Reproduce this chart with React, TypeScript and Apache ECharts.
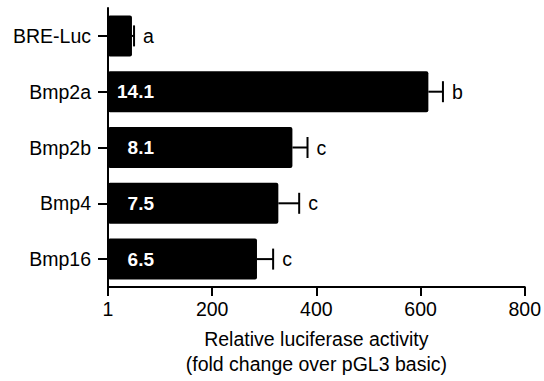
import React, { useEffect, useRef } from "react";
import * as echarts from "echarts";

const categories = ["BRE-Luc", "Bmp2a", "Bmp2b", "Bmp4", "Bmp16"];
const activity = [46, 615, 354, 327, 286];
const errorPlus = [4, 28, 29, 40, 31];
const foldChange = ["", "14.1", "8.1", "7.5", "6.5"];
const significance = ["a", "b", "c", "c", "c"];
const xTicks = [0, 200, 400, 600, 800];
const xTickLabels = ["1", "200", "400", "600", "800"];

const FONT = "'Liberation Sans', Arial, Helvetica, sans-serif";
const FS = 19.5;

export default function App() {
  const ref = useRef<HTMLDivElement>(null);
  useEffect(() => {
    if (!ref.current) return;
    const chart = echarts.init(ref.current, undefined, { renderer: "svg" });
    chart.setOption({
      animation: false,
      backgroundColor: "#fff",
      textStyle: { fontFamily: FONT },
      grid: { left: 108, right: 19, top: 8, bottom: 93.5, containLabel: false },
      xAxis: {
        type: "value",
        min: xTicks[0],
        max: xTicks[xTicks.length - 1],
        interval: 200,
        axisLine: { show: true, lineStyle: { color: "#000", width: 2 } },
        axisTick: { show: true, length: 9, lineStyle: { color: "#000", width: 2 } },
        splitLine: { show: false },
        axisLabel: {
          color: "#000",
          fontSize: FS,
          fontFamily: FONT,
          margin: 12,
          formatter: (v: number) => {
            const i = xTicks.indexOf(v);
            return i >= 0 ? xTickLabels[i] : "";
          },
        },
        name: "Relative luciferase activity\n(fold change over pGL3 basic)",
        nameLocation: "middle",
        nameGap: 39,
        nameTextStyle: { color: "#000", fontSize: FS, lineHeight: 25, fontFamily: FONT },
      },
      yAxis: {
        type: "category",
        data: categories,
        inverse: true,
        axisLine: { show: true, lineStyle: { color: "#000", width: 2 } },
        axisTick: { show: true, length: 10, alignWithLabel: true, lineStyle: { color: "#000", width: 2 } },
        axisLabel: { color: "#000", fontSize: FS, fontFamily: FONT, margin: 17 },
        splitLine: { show: false },
      },
      series: [
        {
          type: "bar",
          data: activity,
          barWidth: 41,
          itemStyle: { color: "#000", borderRadius: 2 },
          label: {
            show: true,
            position: [46, "50%"],
            align: "right",
            verticalAlign: "middle",
            color: "#fff",
            fontWeight: "bold",
            fontSize: 19,
            fontFamily: FONT,
            formatter: (p: any) => foldChange[p.dataIndex],
          },
          z: 2,
        },
        {
          type: "custom",
          data: activity.map((v, i) => [v + errorPlus[i], i]),
          encode: { x: 0, y: 1 },
          z: 3,
          renderItem: (params: any, api: any) => {
            const i = params.dataIndex;
            const start = api.coord([activity[i], i]);
            const end = api.coord([activity[i] + errorPlus[i], i]);
            const capHalf = 10.5;
            return {
              type: "group",
              children: [
                {
                  type: "line",
                  shape: { x1: start[0], y1: start[1], x2: end[0], y2: end[1] },
                  style: { stroke: "#000", lineWidth: 2 },
                },
                {
                  type: "line",
                  shape: { x1: end[0], y1: end[1] - capHalf, x2: end[0], y2: end[1] + capHalf },
                  style: { stroke: "#000", lineWidth: 2 },
                },
                {
                  type: "text",
                  x: end[0] + 9,
                  y: end[1],
                  style: {
                    text: significance[i],
                    fill: "#000",
                    fontSize: FS,
                    fontFamily: FONT,
                    verticalAlign: "middle",
                    align: "left",
                  },
                },
              ],
            };
          },
        },
      ],
    });
    return () => chart.dispose();
  }, []);
  return (
    <div
      ref={ref}
      style={{ position: "fixed", left: 0, top: 0, width: 544, height: 381 }}
    />
  );
}
